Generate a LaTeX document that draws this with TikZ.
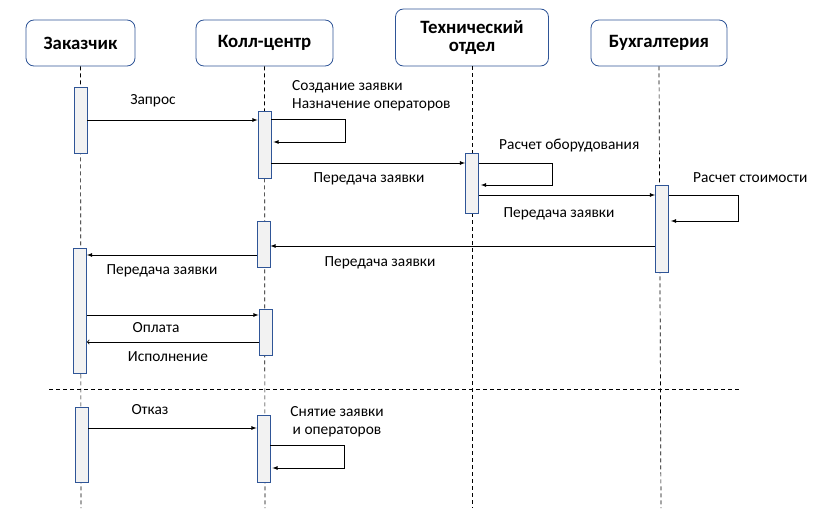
\documentclass[tikz,border=0pt]{standalone}
\usepackage{fontspec}
\setmainfont{Carlito}
\usetikzlibrary{calc,positioning}

\definecolor{boxblue}{HTML}{2F5597}
\definecolor{boxfill}{HTML}{F2F2F2}

\begin{document}
\begin{tikzpicture}[x=1pt,y=-1pt,>=latex,
	actor/.style={draw=boxblue,rounded corners=8pt,line width=0.8pt,align=center,
		font=\fontsize{18.8}{20}\selectfont\bfseries},
	act/.style={draw=boxblue,fill=boxfill,line width=0.8pt,anchor=north,minimum width=13pt,inner sep=0pt},
	life/.style={dash pattern=on 4pt off 3pt,line width=0.7pt},
	msg/.style={line width=0.8pt},
	lbl/.style={font=\fontsize{15.4}{18}\selectfont,inner sep=0pt}
	]
	\useasboundingbox (0,0) rectangle (833,527);

	% participants
	\node[actor,minimum width=109pt,minimum height=46pt] (zak) at (80.5,43) {Заказчик};
	\node[actor,minimum width=137pt,minimum height=46pt] (kc) at (264.5,43) {Колл-центр};
	\node[actor,minimum width=153pt,minimum height=57pt] (to) at (472,37.5) {Технический\\[-2pt]отдел};
	\node[actor,minimum width=136pt,minimum height=46pt] (buh) at (659,43) {Бухгалтерия};

	\coordinate (zakend) at (81,508);
	\coordinate (kcend) at (265,508);
	\coordinate (toend) at (472,508);
	\coordinate (buhend) at (661,508);
	\draw[life] (zak.south) -- (zakend);
	\draw[life] (kc.south) -- (kcend);
	\draw[life] (to.south) -- (toend);
	\draw[life] (buh.south) -- (buhend);

	% activation boxes
	\node[act,minimum height=66pt] (a1) at (80.5,87) {};
	\node[act,minimum height=67pt] (b1) at (264.5,111) {};
	\node[act,minimum height=60pt] (c1) at (472,153) {};
	\node[act,minimum height=87pt] (d1) at (662,185) {};
	\node[act,minimum height=46pt] (b2) at (263.5,221) {};
	\node[act,minimum height=125pt] (a2) at (80,248) {};
	\node[act,minimum height=46pt] (b3) at (265.5,309) {};
	\node[act,minimum height=75pt] (a3) at (81.5,407) {};
	\node[act,minimum height=67pt] (b4) at (263.5,415) {};

	% messages
	\draw[msg,->] (a1.east |- 0,120) -- (b1.west |- 0,120);
	\node[lbl] (zapros) at (153,101) {Запрос};

	\coordinate (l1) at (345,119);
	\draw[msg,->] (b1.east |- l1) -- (l1) |- ([xshift=2pt]b1.east |- 0,142);
	\node[lbl,anchor=west,align=left] (sozd) at (292,96) {Создание заявки\\Назначение операторов};

	\draw[msg,->] (b1.east |- 0,163) -- (c1.west |- 0,163);
	\node[lbl] (per1) at (369,179) {Передача заявки};

	\coordinate (l2) at (552,163);
	\draw[msg,->] (c1.east |- l2) -- (l2) |- ([xshift=2pt]c1.east |- 0,185);
	\node[lbl,anchor=west] (rasob) at (499,146) {Расчет оборудования};

	\draw[msg,->] (c1.east |- 0,195) -- (d1.west |- 0,195);
	\node[lbl] (per2) at (559,214) {Передача заявки};

	\coordinate (l3) at (738,195);
	\draw[msg,->] (d1.east |- l3) -- (l3) |- ([xshift=2pt]d1.east |- 0,221);
	\node[lbl,anchor=west] (rasst) at (693,178) {Расчет стоимости};

	\draw[msg,->] (d1.west |- 0,246) -- (b2.east |- 0,246);
	\node[lbl] (per3) at (380,263) {Передача заявки};

	\draw[msg,->] (b2.west |- 0,255) -- (a2.east |- 0,255);
	\node[lbl] (per4) at (162,271) {Передача заявки};

	\draw[msg,->] (a2.east |- 0,315) -- (b3.west |- 0,315);
	\node[lbl] (opl) at (156,328) {Оплата};

	\draw[msg,-to] (b3.west |- 0,342) -- (a2.east |- 0,342);
	\node[lbl] (isp) at (168,357) {Исполнение};

	% alternative
	\draw[dash pattern=on 4pt off 3pt,line width=0.7pt] (49,389) -- (740,389);

	\draw[msg,->] (a3.east |- 0,428) -- (b4.west |- 0,428);
	\node[lbl] (otk) at (150,410) {Отказ};

	\coordinate (l4) at (344,445);
	\draw[msg,->] (b4.east |- l4) -- (l4) |- ([xshift=2pt]b4.east |- 0,468);
	\node[lbl,align=center] (snyat) at (337,422) {Снятие заявки\\и операторов};

\end{tikzpicture}
\end{document}
